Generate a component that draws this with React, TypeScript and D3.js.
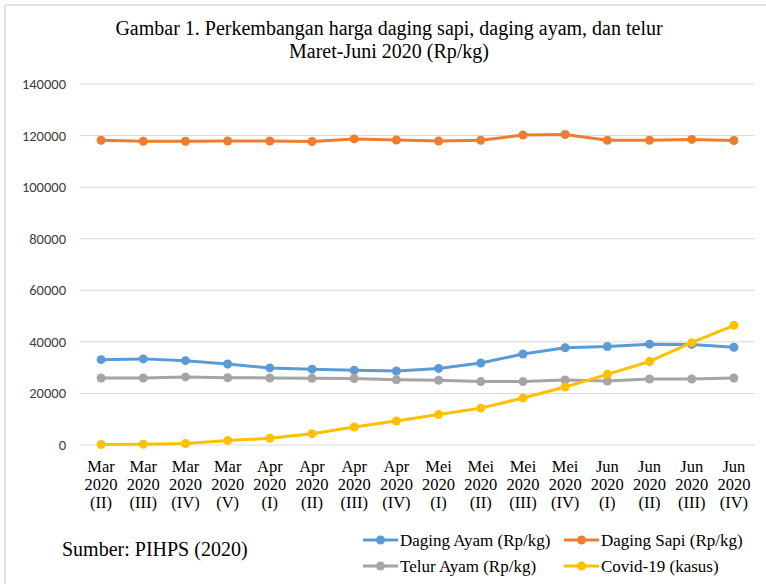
import React, { useRef, useEffect } from 'react'
import * as d3 from 'd3'

const months = ['Mar', 'Mar', 'Mar', 'Mar', 'Apr', 'Apr', 'Apr', 'Apr', 'Mei', 'Mei', 'Mei', 'Mei', 'Jun', 'Jun', 'Jun', 'Jun']
const weeks = ['(II)', '(III)', '(IV)', '(V)', '(I)', '(II)', '(III)', '(IV)', '(I)', '(II)', '(III)', '(IV)', '(I)', '(II)', '(III)', '(IV)']

const dagingAyam = [33100, 33400, 32700, 31400, 29900, 29400, 29000, 28700, 29700, 31800, 35300, 37700, 38200, 39100, 39000, 37900]
const dagingSapi = [118200, 117800, 117800, 117900, 117900, 117700, 118700, 118300, 117900, 118200, 120200, 120400, 118200, 118200, 118500, 118100]
const telurAyam = [26000, 26000, 26400, 26100, 26000, 25900, 25800, 25300, 25100, 24600, 24600, 25200, 24800, 25600, 25600, 26000]
const covid = [200, 300, 600, 1700, 2600, 4400, 7000, 9300, 11800, 14300, 18200, 22500, 27400, 32400, 39700, 46400]

const yTicks = [0, 20000, 40000, 60000, 80000, 100000, 120000, 140000]

const series = [
  { name: 'Daging Ayam (Rp/kg)', values: dagingAyam, color: '#5B9BD5' },
  { name: 'Daging Sapi (Rp/kg)', values: dagingSapi, color: '#ED7D31' },
  { name: 'Telur Ayam (Rp/kg)', values: telurAyam, color: '#A5A5A5' },
  { name: 'Covid-19 (kasus)', values: covid, color: '#FFC000' },
]

const App: React.FC = () => {
  const svgRef = useRef<SVGSVGElement | null>(null)
  const width = 766
  const height = 584

  useEffect(() => {
    if (!svgRef.current) return
    const svg = d3.select(svgRef.current)
    svg.selectAll('*').remove()

    const serif = '"Liberation Serif", "Times New Roman", serif'
    const sans = 'Carlito, "Liberation Sans", Arial, sans-serif'

    // frame
    svg.append('line').attr('x1', 5).attr('x2', width).attr('y1', 5).attr('y2', 5)
      .attr('stroke', '#d9d9d9').attr('stroke-width', 1.5)
    svg.append('line').attr('x1', 5).attr('x2', 5).attr('y1', 5).attr('y2', height)
      .attr('stroke', '#d9d9d9').attr('stroke-width', 1.5)

    // title
    const title = svg.append('text')
      .attr('text-anchor', 'middle')
      .style('font-family', serif)
      .style('font-size', '20px')
      .attr('fill', '#000')
    title.append('tspan').attr('x', 389).attr('y', 35).text('Gambar 1. Perkembangan harga daging sapi, daging ayam, dan telur')
    title.append('tspan').attr('x', 389).attr('y', 58).text('Maret-Juni 2020 (Rp/kg)')

    const left = 80, right = 755, top = 84, bottom = 445
    const idx = d3.range(months.length)

    const x = d3.scaleBand<number>().domain(idx).range([left, right])
    const cx = (i: number) => (x(i) ?? 0) + x.bandwidth() / 2
    const y = d3.scaleLinear().domain([0, 140000]).range([bottom, top])

    // gridlines
    svg.append('g').selectAll('line').data(yTicks).join('line')
      .attr('x1', left).attr('x2', right)
      .attr('y1', d => y(d)).attr('y2', d => y(d))
      .attr('stroke', '#d9d9d9').attr('stroke-width', 1)

    // y labels
    svg.append('g').selectAll('text').data(yTicks).join('text')
      .attr('x', 66).attr('y', d => y(d) + 5)
      .attr('text-anchor', 'end')
      .style('font-family', sans)
      .style('font-size', '14.5px')
      .attr('fill', '#404040')
      .text(d => String(d))

    // x labels
    const xl = svg.append('g').selectAll('text').data(idx).join('text')
      .attr('text-anchor', 'middle')
      .style('font-family', serif)
      .style('font-size', '16.5px')
      .attr('fill', '#000')
    xl.append('tspan').attr('x', d => cx(d)).attr('y', 472).text(d => months[d])
    xl.append('tspan').attr('x', d => cx(d)).attr('y', 490).text('2020')
    xl.append('tspan').attr('x', d => cx(d)).attr('y', 508).text(d => weeks[d])

    const line = d3.line<number>().x((_, i) => cx(i)).y(d => y(d))

    series.forEach(s => {
      const g = svg.append('g')
      g.append('path').datum(s.values)
        .attr('d', line)
        .attr('fill', 'none')
        .attr('stroke', s.color)
        .attr('stroke-width', 3)
        .attr('stroke-linejoin', 'round')
      g.selectAll('circle').data(s.values).join('circle')
        .attr('cx', (_, i) => cx(i))
        .attr('cy', d => y(d))
        .attr('r', 4.5)
        .attr('fill', s.color)
    })

    // legend
    const legendPos = [
      { x: 363, y: 540 },
      { x: 564, y: 540 },
      { x: 363, y: 566 },
      { x: 564, y: 566 },
    ]
    series.forEach((s, i) => {
      const p = legendPos[i]
      const g = svg.append('g')
      g.append('line').attr('x1', p.x).attr('x2', p.x + 35).attr('y1', p.y).attr('y2', p.y)
        .attr('stroke', s.color).attr('stroke-width', 3)
      g.append('circle').attr('cx', p.x + 17.5).attr('cy', p.y).attr('r', 4.5).attr('fill', s.color)
      g.append('text').attr('x', p.x + 37).attr('y', p.y + 5.5)
        .style('font-family', serif)
        .style('font-size', '17px')
        .attr('fill', '#000')
        .text(s.name)
    })

    svg.append('text')
      .attr('x', 62).attr('y', 556)
      .style('font-family', serif)
      .style('font-size', '20px')
      .attr('fill', '#000')
      .text('Sumber: PIHPS (2020)')
  }, [])

  return (
    <svg
      ref={svgRef}
      width={width}
      height={height}
      style={{ position: 'absolute', left: 0, top: 0, background: '#fff' }}
    />
  )
}

export default App
